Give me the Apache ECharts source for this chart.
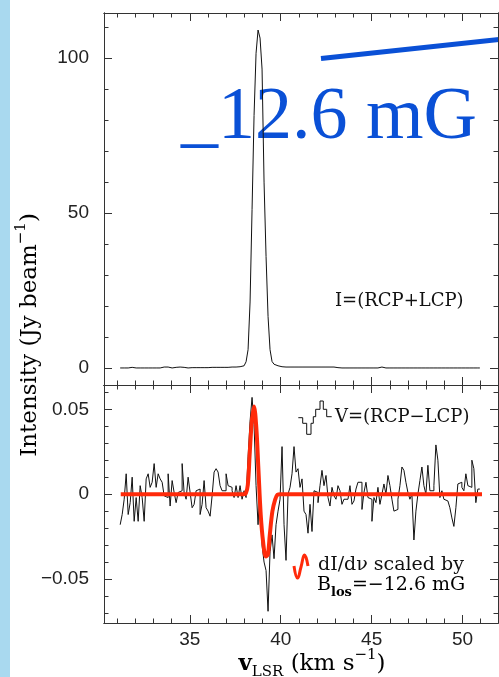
<!DOCTYPE html>
<html><head><meta charset="utf-8">
<script src="https://cdn.jsdelivr.net/npm/echarts@6/dist/echarts.min.js"></script>
<style>html,body{margin:0;padding:0;background:#fff}#c{width:499px;height:677px}</style>
</head><body><div id="c"></div>
<script>
// ---- data ----
const velStart = 31.17;      // km/s, left edge of first channel
const chanWidth = 0.1099;    // km/s per channel
const intensity = [
0,0,0,0,0,0.2,0.3,0,0.3,0,
0,0,0,0,0,0,0,0,0,0,
0,0.3,0,0.3,0.2,0,0.3,0.2,0,0.3,0,0.2,0.3,0,0,
0.1,0.1,0.1,0.1,0.1,0.1,0.1,0.1,0.1,0.1,0.2,0.2,0.2,0.2,0.2,0.2,0.2,0.2,0.2,0.3,0.3,0.3,0.3,0.3,0.4,
0.5,0.7,1.0,2.0,5.9,21.3,51.1,81.5,101.6,109.1,106.5,96.5,60.0,36.0,16.6,5.9,2.1,1.2,0.7,0.5,
0.4,0.4,0.3,0.3,0.3,0.3,0.3,0.3,0.3,0.3,0.3,0.3,0.3,0.3,0.3,0.3,0.3,0.3,0.3,0.3,0.3,0.3,0.3,0.3,0.3,0.3,0.3,
0.1,0.1,0.1,0,0,0,0,0,0,0,0,0,0,0,0,0,0,0,0,0,0,0,0,
0.3,
0,0,0,0,0,0,0,0,0,0,0,0,0,0,0,0,0,0,0,0,0,0,0,0,0,0,0,0,0,0,0,0,0,0,0,0,0,0,0,0,0,0,0,0,0,0,0,0,0
];
const stokesV = [
-0.018,-0.012,-0.003,0.012,-0.012,-0.005,0.010,-0.016,-0.002,-0.016,
0.005,-0.002,-0.016,0.009,0.012,0.004,0.007,0.018,0.004,0.012,
0.009,0.007,-0.001,-0.002,0.012,-0.007,0.008,0.001,-0.005,0.001,
0.002,0.018,0.001,-0.003,0.010,0.001,-0.008,-0.006,0.002,0.003,
-0.012,-0.006,0.008,-0.008,-0.010,-0.013,-0.001,0.013,0.015,0.013,
0.005,0.002,0.002,0.012,0.005,0.004,0.002,-0.002,0.005,-0.002,
0.005,-0.003,0.002,-0.002,0.022,0.043,0.057,0.041,0.005,-0.018,
0.005,-0.030,-0.040,-0.045,-0.069,-0.034,-0.024,-0.038,-0.018,-0.010,
-0.003,0.028,-0.018,-0.039,0.000,0.004,0.012,0.028,0.013,0.015,
0.004,0.009,-0.010,-0.012,-0.023,-0.006,-0.022,0.002,0.001,-0.005,
0.005,0.014,0.005,0.011,-0.002,-0.007,0.004,-0.001,-0.003,0.005,
0.002,-0.006,-0.003,-0.003,-0.003,0.005,-0.006,-0.004,0.003,0.007,
0.007,-0.009,0.001,0.007,-0.002,-0.003,-0.016,-0.002,-0.005,0.004,
-0.006,0.000,0.006,0.000,0.011,0.005,-0.003,-0.010,-0.009,-0.003,
0.005,0.016,0.014,0.007,0.001,-0.003,0.000,-0.027,-0.010,0.000,
0.008,0.016,0.005,0.000,0.017,0.002,0.002,0.005,0.029,0.020,
-0.002,0.002,-0.003,-0.004,-0.005,-0.008,-0.014,-0.019,-0.008,0.006,
0.007,0.004,0.002,0.012,0.005,0.004,0.020,0.015,-0.005,0.003
];
const fitVel = [31.2,37.6,37.95,38.08,38.19,38.30,38.41,38.53,38.66,38.77,38.90,39.03,39.18,39.29,39.40,39.54,39.69,39.82,40.0,40.4,51.07];
const fitV   = [0,0,0,0.0005,0.0055,0.025,0.0427,0.0516,0.0388,0.0153,-0.0122,-0.028,-0.0367,-0.0357,-0.0239,-0.0102,-0.0033,-0.0004,0,0,0];

const xMajorTicks = [35,40,45,50];
const xTickLabels = ['35','40','45','50'];
const xMinorTicks = [31,32,33,34,36,37,38,39,41,42,43,44,46,47,48,49,51];
const iMajorTicks = [0,50,100];
const iTickLabels = ['0','50','100'];
const iMinorTicks = [10,20,30,40,60,70,80,90,110];
const vMajorTicks = [-0.05,0,0.05];
const vTickLabels = ['\u22120.05','0','0.05'];
const vMinorTicks = [-0.07,-0.06,-0.04,-0.03,-0.02,-0.01,0.01,0.02,0.03,0.04,0.06];

const X_MIN = 30.28, X_MAX = 51.95;
const I_MIN = -5.5, I_MAX = 114.6;
const V_MIN = -0.0759, V_MAX = 0.0643;

// ---- build ----
function stepData(vals){
  const d = vals.map((v,i)=>[velStart + i*chanWidth, v]);
  d.push([velStart + vals.length*chanWidth, vals[vals.length-1]]);
  return d;
}
const AX = '#333';
const LBL_FONT = 'Liberation Sans';
function pick(ticks, labels){
  return function(val){
    let best=0, bd=1e9;
    ticks.forEach((t,i)=>{const dd=Math.abs(t-val); if(dd<bd){bd=dd;best=i;}});
    return labels[best];
  };
}
function mkX(grid,pos,ticks,len,labels){
  return {type:'value',gridIndex:grid,position:pos,min:X_MIN,max:X_MAX,
    axisLine:{show:true,onZero:false,lineStyle:{color:AX,width:1}},
    axisTick:{show:true,inside:true,length:len,customValues:ticks,lineStyle:{color:AX,width:1}},
    axisLabel: labels ? {show:true,customValues:ticks,margin:7,color:'#222',fontFamily:LBL_FONT,fontSize:19,formatter:pick(ticks,labels)} : {show:false},
    splitLine:{show:false},minorTick:{show:false},axisPointer:{show:false}};
}
function mkY(grid,pos,ticks,len,min,max,labels){
  return {type:'value',gridIndex:grid,position:pos,min:min,max:max,
    axisLine:{show:true,onZero:false,lineStyle:{color:AX,width:1}},
    axisTick:{show:true,inside:true,length:len,customValues:ticks,lineStyle:{color:AX,width:1}},
    axisLabel: labels ? {show:true,customValues:ticks,margin:15,color:'#222',fontFamily:LBL_FONT,fontSize:19,formatter:pick(ticks,labels)} : {show:false},
    splitLine:{show:false},minorTick:{show:false},axisPointer:{show:false}};
}

const serif = '"DejaVu Serif"';
const chart = echarts.init(document.getElementById('c'), null, {renderer:'canvas'});
chart.setOption({
  animation:false,
  backgroundColor:'#fff',
  grid:[
    {left:104,right:1,top:13,height:372},
    {left:104,right:1,top:13,height:372},
    {left:104,right:1,top:385,height:238},
    {left:104,right:1,top:385,height:238}
  ],
  xAxis:[
    mkX(0,'bottom',xMajorTicks,8), mkX(0,'top',xMajorTicks,8),
    mkX(1,'bottom',xMinorTicks,4.5), mkX(1,'top',xMinorTicks,4.5),
    mkX(2,'bottom',xMajorTicks,8,xTickLabels), mkX(2,'top',xMajorTicks,8),
    mkX(3,'bottom',xMinorTicks,4.5), mkX(3,'top',xMinorTicks,4.5)
  ],
  yAxis:[
    mkY(0,'left',iMajorTicks,8,I_MIN,I_MAX,iTickLabels), mkY(0,'right',iMajorTicks,8,I_MIN,I_MAX),
    mkY(1,'left',iMinorTicks,4.5,I_MIN,I_MAX), mkY(1,'right',iMinorTicks,4.5,I_MIN,I_MAX),
    mkY(2,'left',vMajorTicks,8,V_MIN,V_MAX,vTickLabels), mkY(2,'right',vMajorTicks,8,V_MIN,V_MAX),
    mkY(3,'left',vMinorTicks,4.5,V_MIN,V_MAX), mkY(3,'right',vMinorTicks,4.5,V_MIN,V_MAX)
  ],
  series:[
    {type:'line',xAxisIndex:0,yAxisIndex:0,data:stepData(intensity),step:'end',showSymbol:false,silent:true,
     lineStyle:{color:'#111',width:1},z:3},
    {type:'line',xAxisIndex:4,yAxisIndex:4,data:stepData(stokesV),step:'end',showSymbol:false,silent:true,
     lineStyle:{color:'#111',width:1},z:3},
    {type:'line',xAxisIndex:4,yAxisIndex:4,data:fitVel.map((v,i)=>[v,fitV[i]]),smooth:0.35,showSymbol:false,silent:true,
     lineStyle:{color:'#ff2a0a',width:4},z:4}
  ],
  graphic:[
    {type:'rect',shape:{x:0,y:0,width:10,height:677},style:{fill:'#a9d9ef'},z:0},
    {type:'text',x:181,y:119,z:0,style:{text:'_12.6 mG',font:'74px "Liberation Serif"',fill:'#0a50d6',textVerticalAlign:'middle'}},
    {type:'line',shape:{x1:321,y1:58.5,x2:499,y2:39.5},style:{stroke:'#0a50d6',lineWidth:5},z:0},
    {type:'text',x:335,y:301,z:5,style:{text:'I=(RCP+LCP)',font:'18px '+serif,fill:'#111',textVerticalAlign:'middle'}},
    {type:'text',x:335,y:417,z:5,style:{text:'V=(RCP\u2212LCP)',font:'18px '+serif,fill:'#111',textVerticalAlign:'middle'}},
    {type:'polyline',z:5,shape:{points:[[298.3,417.7],[302.7,417.7],[302.7,423.3],[306.7,423.3],[306.7,434.3],[311,434.3],[311,423.3],[313.3,423.3],[313.3,416.7],[315.7,416.7],[315.7,409.3],[320,409.3],[320,401],[323.3,401],[323.3,409.3],[326.7,409.3],[326.7,416.7],[331.7,416.7]]},
     style:{stroke:'#111',lineWidth:1,fill:null}},
    {type:'polyline',z:5,shape:{points:[[294,566],[297.5,578],[301,567],[304.5,555],[308,566]],smooth:0.5},
     style:{stroke:'#ff2a0a',lineWidth:3,fill:null}},
    {type:'text',x:318,y:565,z:5,style:{text:'dI/d\u03bd scaled by',font:'19px '+serif,fill:'#111',textVerticalAlign:'middle'}},
    {type:'text',x:317,y:585,z:5,style:{text:'{b|B}{s|los}{b|=\u221212.6 mG}',textVerticalAlign:'middle',
      rich:{b:{fontFamily:'DejaVu Serif',fontSize:19,lineHeight:28,color:'#111'},
            s:{fontFamily:'DejaVu Serif',fontSize:13,lineHeight:13,verticalAlign:'bottom',color:'#111',fontWeight:'bold'}}}},
    {type:'text',x:312,y:664,z:5,style:{text:'{v|v}{s|LSR}{n| (km s}{p|\u22121}{n|)}',textAlign:'center',textVerticalAlign:'middle',
      rich:{v:{fontFamily:'DejaVu Serif',fontSize:23,fontWeight:'bold',lineHeight:32,color:'#111'},
            n:{fontFamily:'DejaVu Serif',fontSize:23,lineHeight:32,color:'#111'},
            s:{fontFamily:'DejaVu Serif',fontSize:15,lineHeight:15,verticalAlign:'bottom',color:'#111'},
            p:{fontFamily:'DejaVu Serif',fontSize:15,lineHeight:15,verticalAlign:'top',color:'#111'}}}},
    {type:'text',x:30,y:335,rotation:Math.PI/2,z:5,style:{text:'{n|Intensity (Jy beam}{p|\u22121}{n|)}',textAlign:'center',textVerticalAlign:'middle',
      rich:{n:{fontFamily:'DejaVu Serif',fontSize:23,lineHeight:32,color:'#111'},
            p:{fontFamily:'DejaVu Serif',fontSize:15,lineHeight:15,verticalAlign:'top',color:'#111'}}}}
  ]
});
</script></body></html>
